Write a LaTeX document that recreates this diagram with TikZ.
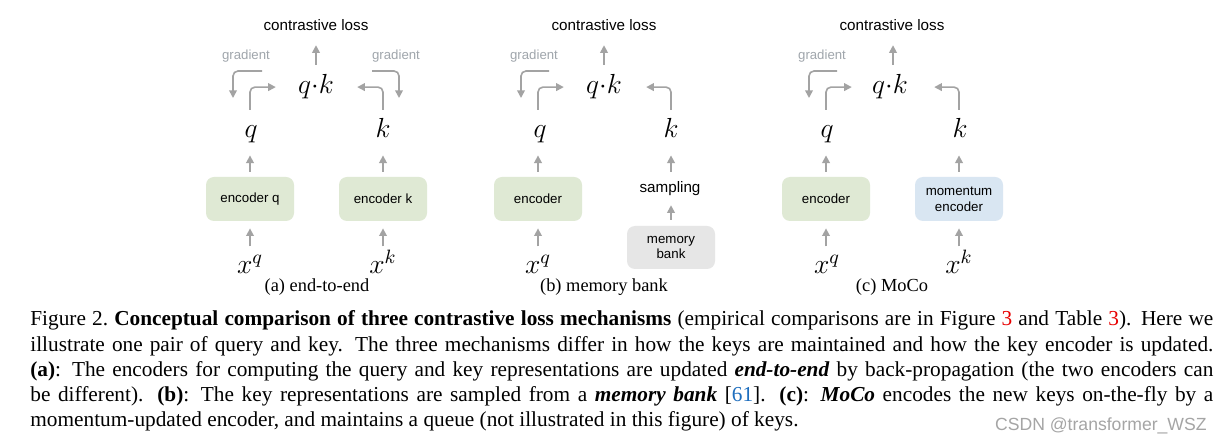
\RequirePackage{fix-cm}
\documentclass[tikz,border=0pt]{standalone}
\usepackage{fontspec}
\newfontfamily\sffont{Liberation Sans}
\newfontfamily\capfont{Liberation Serif}
\usetikzlibrary{arrows.meta}

\definecolor{arrowgray}{RGB}{163,163,163}
\definecolor{gradgray}{RGB}{160,166,172}
\definecolor{encgreen}{RGB}{223,233,212}
\definecolor{encblue}{RGB}{217,230,242}
\definecolor{bankgray}{RGB}{230,230,230}
\definecolor{refred}{RGB}{232,0,0}
\definecolor{citeblue}{RGB}{30,110,190}
\definecolor{markgray}{RGB}{165,165,165}

\tikzset{
  arr/.style={draw=arrowgray, line width=0.8pt, -{Triangle[length=3.8pt,width=3.8pt]}},
  turn/.style={arr, rounded corners=2.5pt},
  encbox/.style={rounded corners=4pt, minimum width=44pt, minimum height=22pt,
    align=center, inner sep=1pt, font=\sffont\fontsize{6.65}{7.8}\selectfont},
  lossnode/.style={anchor=base, inner sep=0pt, font=\sffont\fontsize{7.6}{9}\selectfont},
  gradnode/.style={anchor=base, inner sep=0pt, text=gradgray, font=\sffont\fontsize{6.6}{8}\selectfont},
  mathnode/.style={anchor=base, inner sep=0pt, text height=9.66pt, text depth=2.76pt,
    font=\fontsize{13.8}{16}\selectfont},
  sublabel/.style={anchor=base, inner sep=0pt, font=\capfont\fontsize{9.2}{11}\selectfont},
  capline/.style={anchor=base west, inner sep=0pt, font=\capfont\fontsize{10.65}{12.6}\selectfont}
}

\begin{document}
\begin{tikzpicture}[x=0.5pt,y=-0.5pt]
\fill[white] (0,0) rectangle (1224,442);
\useasboundingbox (0,0) rectangle (1224,442);

% (a) end-to-end
\node[lossnode] (lossA) at (316,30.7) {contrastive loss};
\node[mathnode] (qkA) at (316,94) {$q{\cdot}k$};
\node[gradnode] (gradqA) at (246,60) {gradient};
\node[gradnode] (gradkA) at (396,60) {gradient};
\node[mathnode] (qA) at (251,137.5) {$q$};
\node[mathnode] (kA) at (383,137.5) {$k$};
\node[encbox, fill=encgreen] (encqA) at (250,199) {encoder q};
\node[encbox, fill=encgreen] (enckA) at (383,199) {encoder k};
\node[mathnode] (xqA) at (250,274) {$x^q$};
\node[mathnode] (xkA) at (383,274) {$x^k$};
\node[sublabel] (labA) at (317,291.7) {(a) end-to-end};
\coordinate (gqA1) at (262,71);
\coordinate (gqA2) at (233,98);
\coordinate (gkA1) at (372,71);
\coordinate (gkA2) at (399,98);

\draw[arr, shorten <=4.8pt, shorten >=7pt] (qkA.north) -- (lossA.south);
\draw[turn, shorten <=4pt, shorten >=11pt] ([xshift=-0.5pt]qA.north) |- (qkA.west);
\draw[turn, shorten <=4pt, shorten >=11.5pt] (kA.north) |- (qkA.east);
\draw[turn] (gqA1) -| (gqA2);
\draw[turn] (gkA1) -| (gkA2);
\draw[arr, shorten <=2.5pt, shorten >=6pt] (encqA.north) -- (encqA.north |- qA.south);
\draw[arr, shorten <=2.5pt, shorten >=6pt] (enckA.north) -- (kA.south);
\draw[arr, shorten <=3.9pt, shorten >=3.5pt] (xqA.north) -- (encqA.south);
\draw[arr, shorten <=3.9pt, shorten >=3.5pt] (xkA.north) -- (enckA.south);

% (b) memory bank
\node[lossnode] (lossB) at (604,30.7) {contrastive loss};
\node[mathnode] (qkB) at (604,94) {$q{\cdot}k$};
\node[gradnode] (gradqB) at (534,60) {gradient};
\node[mathnode] (qB) at (540,137.5) {$q$};
\node[mathnode] (kB) at (671,137.5) {$k$};
\node[encbox, fill=encgreen] (encB) at (538,199) {encoder};
\node[lossnode] (sampB) at (670,192.7) {sampling};
\node[encbox, fill=bankgray, minimum height=21.5pt] (bankB) at (671,247.5) {memory\\bank};
\node[mathnode] (xqB) at (538,274) {$x^q$};
\node[sublabel] (labB) at (604,291.7) {(b) memory bank};
\coordinate (gqB1) at (549,71);
\coordinate (gqB2) at (521,98);

\draw[arr, shorten <=4.8pt, shorten >=7pt] (qkB.north) -- (lossB.south);
\draw[turn, shorten <=4pt, shorten >=11pt] ([xshift=-1pt]qB.north) |- (qkB.west);
\draw[turn, shorten <=4pt, shorten >=12pt] (kB.north) |- (qkB.east);
\draw[turn] (gqB1) -| (gqB2);
\draw[arr, shorten <=2.5pt, shorten >=6pt] (encB.north) -- (encB.north |- qB.south);
\draw[arr, shorten <=4.8pt, shorten >=6pt] (sampB.north -| kB.south) -- (kB.south);
\draw[arr, shorten <=3pt, shorten >=4.5pt] (bankB.north) -- (bankB.north |- sampB.south);
\draw[arr, shorten <=3.9pt, shorten >=3.5pt] (xqB.north) -- (encB.south);

% (c) MoCo
\node[lossnode] (lossC) at (892,30.7) {contrastive loss};
\node[mathnode] (qkC) at (890,94) {$q{\cdot}k$};
\node[gradnode] (gradqC) at (822,60) {gradient};
\node[mathnode] (qC) at (827,137.5) {$q$};
\node[mathnode] (kC) at (960,137.5) {$k$};
\node[encbox, fill=encgreen] (encC) at (826,199) {encoder};
\node[encbox, fill=encblue] (momC) at (959,199) {momentum\\encoder};
\node[mathnode] (xqC) at (827,274) {$x^q$};
\node[mathnode] (xkC) at (959,274) {$x^k$};
\node[sublabel] (labC) at (892,291.7) {(c) MoCo};
\coordinate (gqC1) at (837,71);
\coordinate (gqC2) at (809,98);

\draw[arr, shorten <=4.8pt, shorten >=7pt] ([xshift=1.5pt]qkC.north) -- ([xshift=1.5pt]qkC.north |- lossC.south);
\draw[turn, shorten <=4pt, shorten >=10pt] ([xshift=-0.5pt]qC.north) |- (qkC.west);
\draw[turn, shorten <=4pt, shorten >=13pt] ([xshift=-0.5pt]kC.north) |- (qkC.east);
\draw[turn] (gqC1) -| (gqC2);
\draw[arr, shorten <=2.5pt, shorten >=6pt] (encC.north) -- (encC.north |- qC.south);
\draw[arr, shorten <=2.5pt, shorten >=6pt] (momC.north) -- (momC.north |- kC.south);
\draw[arr, shorten <=3.9pt, shorten >=3.5pt] (encC.south |- xqC.north) -- (encC.south);
\draw[arr, shorten <=3.9pt, shorten >=3.5pt] (xkC.north) -- (momC.south);

% caption
\node[capline] (cap1) at (30,326) {\makebox[591.5pt][s]{Figure 2.\ \textbf{Conceptual comparison of three contrastive loss mechanisms} (empirical comparisons are in Figure \textcolor{refred}{3} and Table \textcolor{refred}{3}).  Here we}};
\node[capline] (cap2) at (30,351.2) {\makebox[591.5pt][s]{illustrate one pair of query and key.  The three mechanisms differ in how the keys are maintained and how the key encoder is updated.}};
\node[capline] (cap3) at (30,376.4) {\makebox[591.5pt][s]{\textbf{(a)}: The encoders for computing the query and key representations are updated \textbf{\textit{end-to-end}} by back-propagation (the two encoders can}};
\node[capline] (cap4) at (30,401.6) {\makebox[591.5pt][s]{be different).  \textbf{(b)}: The key representations are sampled from a \textbf{\textit{memory bank}} [\textcolor{citeblue}{61}].  \textbf{(c)}: \textbf{\textit{MoCo}} encodes the new keys on-the-fly by a}};
\node[capline] (cap5) at (30,426.8) {momentum-updated encoder, and maintains a queue (not illustrated in this figure) of keys.};
\node[anchor=base east, inner sep=0pt, text=markgray, font=\sffont\fontsize{8.8}{10}\selectfont] (mark) at (1207,430) {CSDN @transformer\_WSZ};
\end{tikzpicture}
\end{document}
